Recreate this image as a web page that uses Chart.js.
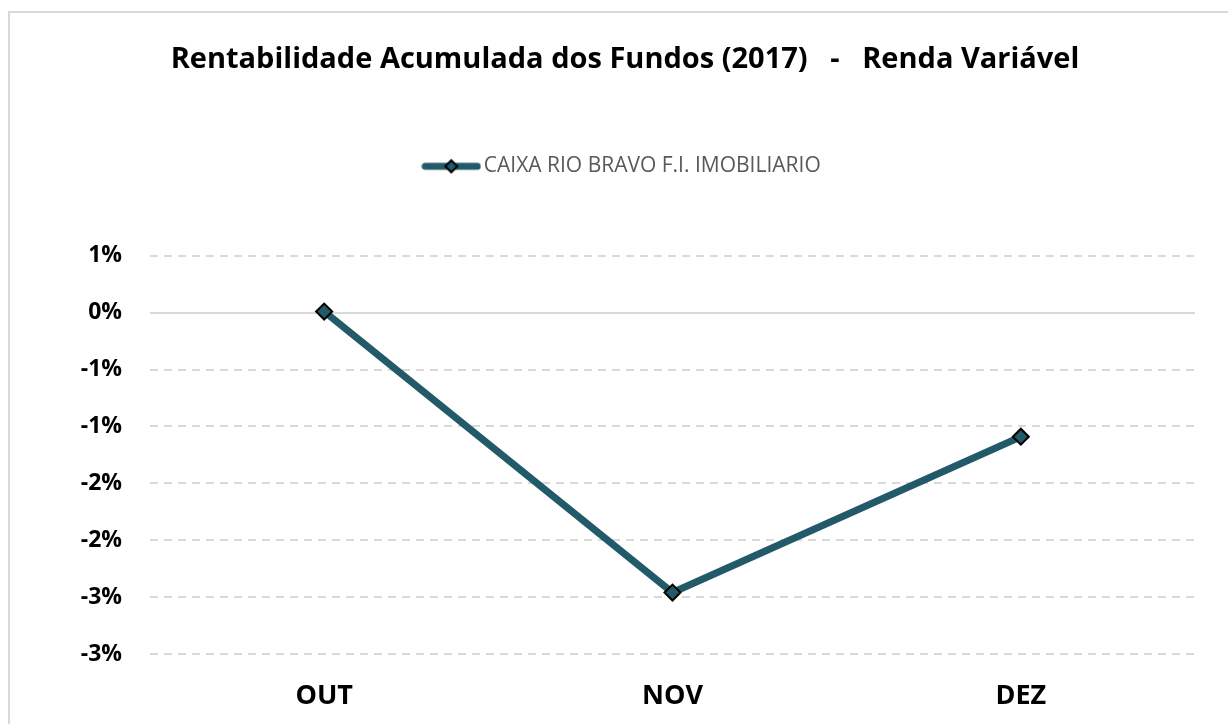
<!DOCTYPE html>
<html>
<head>
<meta charset="utf-8">
<script src="https://cdn.jsdelivr.net/npm/chart.js@4/dist/chart.umd.min.js"></script>
<style>
  html, body { margin: 0; padding: 0; background: #fff; }
  #wrap { position: relative; width: 1228px; height: 724px; overflow: hidden; }
  #frame { position: absolute; left: 8px; top: 11px; width: 1240px; height: 740px;
           border-top: 2px solid #d9d9d9; border-left: 2px solid #d9d9d9; }
  #chart { position: absolute; left: 0; top: 0; }
</style>
</head>
<body>
<div id="wrap">
  <div id="frame"></div>
  <canvas id="chart" width="1228" height="724"></canvas>
</div>
<script>
// Meses e rentabilidade acumulada (%)
const meses = ['OUT', 'NOV', 'DEZ'];
const caixaRioBravo = [0.01, -2.46, -1.09];
const nomeSerie = 'CAIXA RIO BRAVO F.I. IMOBILIÁRIO';
const eixoMin = -3.0;
const eixoMax = 0.5;
const eixoPasso = 0.5;

const corLinha = '#235a69';

// Ícone da legenda: linha com marcador losango
function iconeLegenda() {
  const c = document.createElement('canvas');
  c.width = 60;
  c.height = 18;
  const ctx = c.getContext('2d');
  ctx.strokeStyle = corLinha;
  ctx.lineWidth = 7;
  ctx.lineCap = 'round';
  ctx.beginPath();
  ctx.moveTo(4, 9);
  ctx.lineTo(56, 9);
  ctx.stroke();
  ctx.fillStyle = corLinha;
  ctx.strokeStyle = '#000';
  ctx.lineWidth = 2;
  ctx.beginPath();
  ctx.moveTo(30, 3);
  ctx.lineTo(36, 9);
  ctx.lineTo(30, 15);
  ctx.lineTo(24, 9);
  ctx.closePath();
  ctx.fill();
  ctx.stroke();
  return c;
}
const icone = iconeLegenda();

// Arredondamento estilo Excel (meio para longe do zero)
function formatarPct(v) {
  const r = Math.sign(v) * Math.round(Math.abs(v));
  return (r === 0 ? 0 : r) + '%';
}

new Chart(document.getElementById('chart'), {
  type: 'line',
  data: {
    labels: meses,
    datasets: [{
      label: nomeSerie,
      data: caixaRioBravo,
      borderColor: corLinha,
      backgroundColor: corLinha,
      borderWidth: 7,
      tension: 0,
      pointStyle: 'rectRot',
      pointRadius: 8,
      pointHoverRadius: 8,
      pointBackgroundColor: corLinha,
      pointBorderColor: '#000',
      pointBorderWidth: 2
    }]
  },
  options: {
    responsive: false,
    animation: false,
    layout: { padding: { left: 55, right: 33, top: 0, bottom: 0 } },
    plugins: {
      title: {
        display: true,
        text: 'Rentabilidade Acumulada dos Fundos (2017)   -   Renda Variável',
        color: '#000',
        font: { family: 'Open Sans', size: 29, weight: 'bold' },
        padding: { top: 42, bottom: 79 }
      },
      // espaço vazio entre a legenda e o gráfico
      subtitle: {
        display: true,
        text: '',
        weight: 500,
        font: { size: 10 },
        padding: { top: 57, bottom: 0 }
      },
      legend: {
        display: true,
        labels: {
          color: '#595959',
          font: { family: 'Open Sans', size: 21 },
          usePointStyle: true,
          pointStyleWidth: 44,
          padding: 0,
          generateLabels: function(chart) {
            return chart.data.datasets.map(function(ds, i) {
              return {
                text: ds.label,
                fontColor: '#595959',
                pointStyle: icone,
                datasetIndex: i,
                lineWidth: 0,
                strokeStyle: 'transparent',
                fillStyle: 'transparent'
              };
            });
          }
        }
      },
      tooltip: { enabled: false }
    },
    scales: {
      x: {
        offset: true,
        grid: { display: false },
        border: { display: false },
        ticks: {
          color: '#000',
          font: { family: 'Open Sans', size: 27, weight: 'bold' },
          padding: 18
        },
        afterFit: function(scale) { scale.height = 70; }
      },
      y: {
        min: eixoMin,
        max: eixoMax,
        ticks: {
          stepSize: eixoPasso,
          color: '#000',
          font: { family: 'Open Sans', size: 23, weight: 'bold' },
          padding: 28,
          callback: function(v) { return formatarPct(v); }
        },
        grid: {
          color: '#d9d9d9',
          lineWidth: 2,
          drawTicks: false
        },
        border: {
          display: false,
          dash: function(ctx) {
            return ctx.tick && ctx.tick.value === 0 ? [] : [8, 6];
          }
        },
        afterFit: function(scale) { scale.width = 95; }
      }
    }
  }
});
</script>
</body>
</html>
